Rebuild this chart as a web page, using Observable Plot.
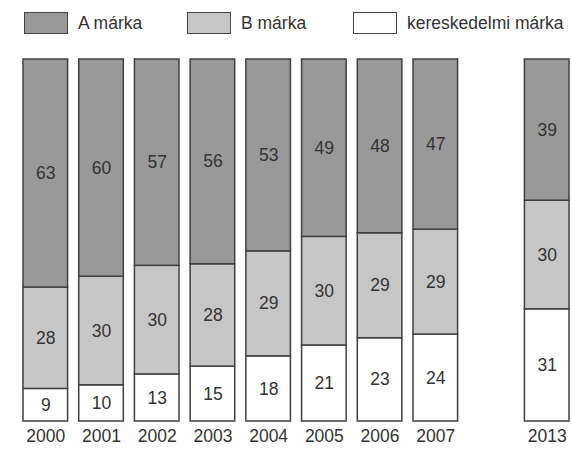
<!DOCTYPE html>
<html>
<head>
<meta charset="utf-8">
<script src="https://cdn.jsdelivr.net/npm/d3@7"></script>
<script src="https://cdn.jsdelivr.net/npm/@observablehq/plot@0.6"></script>
<style>
  html, body { margin: 0; padding: 0; background: #fff; }
  body { width: 572px; height: 449px; overflow: hidden; font-family: "Liberation Sans", Arial, sans-serif; color: #333; }
  #legend { position: relative; height: 45px; }
  .item { position: absolute; top: 12px; display: flex; align-items: center; font-size: 17.5px; }
  .sw { width: 44px; height: 22px; border: 1.5px solid #444; box-sizing: border-box; margin-right: 10px; }
  #chart svg { display: block; }
</style>
</head>
<body>
<div id="legend"></div>
<div id="chart"></div>
<script>
// Data
const years = ["2000", "2001", "2002", "2003", "2004", "2005", "2006", "2007", "2013"];
const seriesNames = ["kereskedelmi márka", "B márka", "A márka"]; // bottom to top
const aMarka = [63, 60, 57, 56, 53, 49, 48, 47, 39];
const bMarka = [28, 30, 30, 28, 29, 30, 29, 29, 30];
const kereskedelmi = [9, 10, 13, 15, 18, 21, 23, 24, 31];
const legendOrder = ["A márka", "B márka", "kereskedelmi márka"];
const colors = {"A márka": "#999999", "B márka": "#c6c6c6", "kereskedelmi márka": "#ffffff"};

const valuesBySeries = {"kereskedelmi márka": kereskedelmi, "B márka": bMarka, "A márka": aMarka};
const rows = [];
for (const s of seriesNames) {
  years.forEach((y, i) => rows.push({year: y, series: s, value: valuesBySeries[s][i]}));
}

// x domain with a gap slot between 2007 and 2013
const xDomain = [...years.slice(0, 8), " ", years[8]];

// Legend
const legendLefts = [24, 187, 353];
const legend = document.getElementById("legend");
legendOrder.forEach((s, i) => {
  const it = document.createElement("div");
  it.className = "item";
  it.style.left = legendLefts[i] + "px";
  const sw = document.createElement("div");
  sw.className = "sw";
  sw.style.background = colors[s];
  const t = document.createElement("span");
  t.textContent = s;
  it.appendChild(sw); it.appendChild(t);
  legend.appendChild(it);
});

const chart = Plot.plot({
  width: 572,
  height: 404,
  marginTop: 14,
  marginBottom: 28,
  marginLeft: 23,
  marginRight: 3,
  style: {fontFamily: "Liberation Sans, Arial, sans-serif", fontSize: "17.5px", color: "#333", background: "#fff"},
  x: {domain: xDomain, paddingInner: 0.2, paddingOuter: 0, round: false, label: null, tickSize: 0, tickPadding: 8},
  y: {domain: [0, 1], axis: null},
  color: {domain: Object.keys(colors), range: Object.values(colors)},
  marks: [
    Plot.barY(rows, Plot.stackY({offset: "normalize", order: null}, {
      x: "year", y: "value", z: "series", fill: "series", stroke: "#404040", strokeWidth: 1.5
    })),
    Plot.text(rows, Plot.stackY({offset: "normalize", order: null}, {
      x: "year", y: "value", z: "series", text: d => String(d.value), fill: "#333", fontSize: 17.5
    }))
  ]
});
document.getElementById("chart").appendChild(chart);
</script>
</body>
</html>
